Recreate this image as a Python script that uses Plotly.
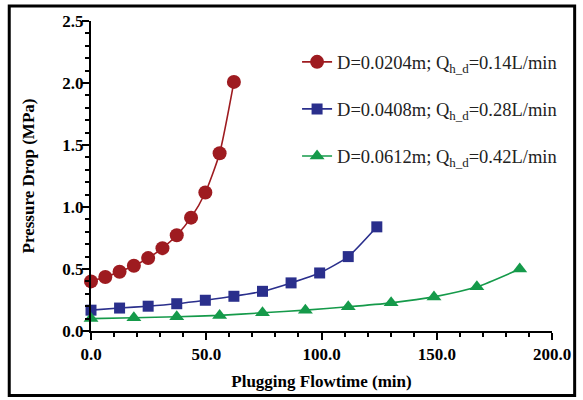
import plotly.graph_objects as go

# Data
x_red = [0, 6.2, 12.4, 18.6, 24.8, 31.0, 37.2, 43.4, 49.6, 55.8, 62.0]
y_red = [0.40, 0.435, 0.478, 0.526, 0.588, 0.668, 0.772, 0.914, 1.117, 1.434, 2.009]

x_blue = [0, 12.4, 24.8, 37.2, 49.6, 62.0, 74.4, 86.8, 99.2, 111.6, 124.0]
y_blue = [0.168, 0.185, 0.200, 0.220, 0.248, 0.280, 0.320, 0.388, 0.468, 0.600, 0.840]

x_green = [0, 18.6, 37.2, 55.8, 74.4, 93.0, 111.6, 130.2, 148.8, 167.4, 186.0]
y_green = [0.100, 0.107, 0.115, 0.126, 0.147, 0.168, 0.195, 0.227, 0.275, 0.356, 0.500]

names = [
    "D=0.0204m; Q<sub>h_d</sub>=0.14L/min",
    "D=0.0408m; Q<sub>h_d</sub>=0.28L/min",
    "D=0.0612m; Q<sub>h_d</sub>=0.42L/min",
]
colors = ["#9E1B20", "#2A2F8C", "#159A4A"]
symbols = ["circle", "square", "triangle-up"]
sizes = [14, 11, 13]

fig = go.Figure()
for i, (xs, ys) in enumerate([(x_red, y_red), (x_blue, y_blue), (x_green, y_green)]):
    fig.add_trace(go.Scatter(
        x=xs, y=ys, mode="lines+markers", name=names[i],
        line=dict(color=colors[i], width=1.6, shape="spline", smoothing=0.6),
        marker=dict(color=colors[i], symbol=symbols[i], size=sizes[i]),
        cliponaxis=False, legendgroup=str(i),
    ))

tickfont = dict(family="Liberation Serif", size=17, color="black", weight="bold")
titlefont = dict(family="Liberation Serif", size=17, color="black", weight="bold")

PW, PH = 468, 312  # plot area size in px

fig.update_layout(
    width=583, height=400,
    margin=dict(l=91, r=24, t=20, b=68),
    paper_bgcolor="white", plot_bgcolor="white",
    showlegend=True,
    legend=dict(
        x=0.447, y=0.928, xanchor="left", yanchor="top",
        font=dict(family="Liberation Serif", size=18.5, color="#222"),
        bgcolor="rgba(0,0,0,0)", tracegroupgap=20, traceorder="grouped",
    ),
    xaxis=dict(
        range=[0, 200], tickvals=[0, 50, 100, 150, 200], tickformat=".1f",
        showgrid=False, zeroline=False, showline=True, linecolor="black", linewidth=2,
        ticks="outside", ticklen=7, tickwidth=2, tickcolor="black",
        minor=dict(dtick=10, ticks="outside", ticklen=4, tickwidth=2, tickcolor="black"),
        tickfont=tickfont, ticklabeloverflow="allow",
        title=dict(text="Plugging Flowtime (min)", font=titlefont, standoff=12),
    ),
    yaxis=dict(
        range=[0, 2.5], tickvals=[0, 0.5, 1.0, 1.5, 2.0, 2.5], tickformat=".1f",
        showgrid=False, zeroline=False, showline=True, linecolor="black", linewidth=2,
        ticks="outside", ticklen=7, tickwidth=2, tickcolor="black",
        minor=dict(dtick=0.1, ticks="outside", ticklen=4, tickwidth=2, tickcolor="black"),
        tickfont=tickfont, ticklabelstandoff=-5,
        title=dict(text="Pressure Drop (MPa)", font=titlefont, standoff=23),
    ),
    shapes=[dict(type="rect", xref="paper", yref="paper",
                 x0=(8 - 91) / PW, x1=(582 - 91) / PW,
                 y0=(332 - 397) / PH, y1=(332 - 5) / PH,
                 line=dict(color="black", width=3), fillcolor="rgba(0,0,0,0)", layer="below")],
)

fig.write_html("out.html", config={"displayModeBar": False},
               post_script="document.body.style.margin='0';")
